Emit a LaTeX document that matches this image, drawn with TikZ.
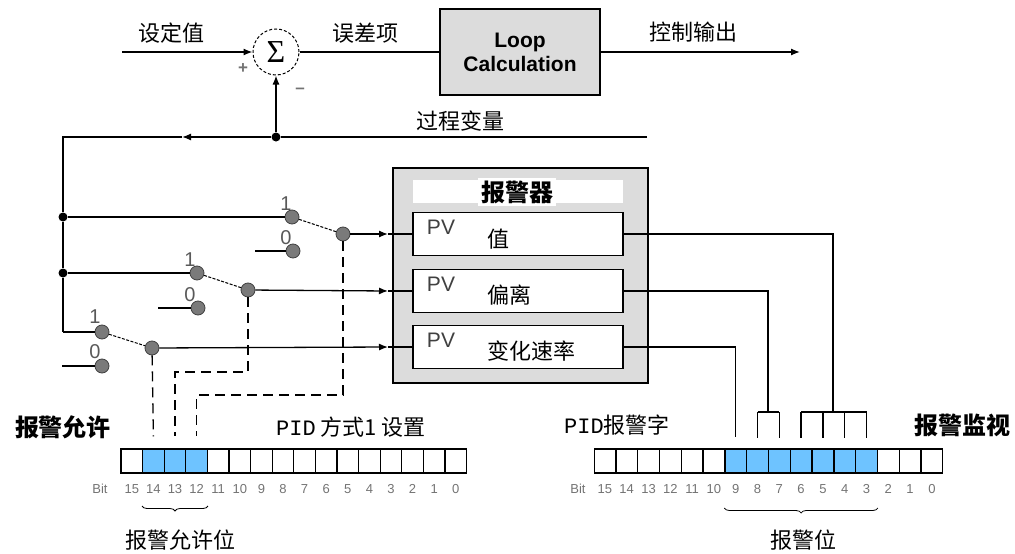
\documentclass[tikz,border=0pt]{standalone}
\usepackage{fontspec}
\setmainfont{Liberation Sans}
\newfontfamily\cjk{Noto Sans CJK SC}
\newfontfamily\pidfont{Liberation Mono}
\newfontfamily\sigfont{Liberation Serif}
\usetikzlibrary{arrows.meta,calc,decorations.pathreplacing}
\definecolor{boxgray}{RGB}{220,220,220}
\definecolor{bitblue}{RGB}{110,195,255}
\definecolor{contactgray}{RGB}{122,122,122}

\begin{document}
\begin{tikzpicture}[x=1pt,y=-1pt,
  wire/.style={line width=1.3pt},
  ctrl/.style={line width=1.3pt,dash pattern=on 10pt off 6pt},
  wiper/.style={line width=1pt,dash pattern=on 3pt off 1.5pt},
  tip/.style={-{Latex[length=9pt,width=7pt]}},
  jdot/.style={circle,fill=black,inner sep=0pt,minimum size=9pt},
  contact/.style={circle,fill=contactgray,draw=black!75,line width=0.8pt,inner sep=0pt,minimum size=14pt},
  cn/.style={font=\cjk\fontsize{22}{24}\selectfont},
  cnbold/.style={font=\cjk\bfseries\fontsize{24}{26}\selectfont},
  swlbl/.style={font=\fontsize{20}{20}\selectfont,text=black!65},
  pvtxt/.style={font=\fontsize{21}{22}\selectfont,text=black!75},
  pvbox/.style={draw,line width=1.3pt,fill=white,minimum width=210pt,minimum height=43pt},
  cell/.style={draw,line width=1.2pt,fill=white,minimum width=21.6pt,minimum height=24pt,inner sep=0pt},
  bitnum/.style={font=\fontsize{13}{14}\selectfont,text=black!55}
]
\useasboundingbox (0,0) rectangle (1015,554);

% Summing junction and loop block
\node[circle,draw,densely dashed,line width=1pt,minimum size=46pt,inner sep=0pt] (sum) at (276,52) {\sigfont\fontsize{32}{32}\selectfont Σ};
\node[draw,line width=1.5pt,fill=boxgray,minimum width=160pt,minimum height=86pt,align=center,
  font=\bfseries\fontsize{21}{24}\selectfont] (loop) at (520,52) {Loop\\Calculation};
\coordinate (sp) at (122,52);
\coordinate (out) at (800,52);
\draw[wire,tip] (sp) -- (sum.west);
\draw[wire] (sum.east) -- (loop.west);
\draw[wire,tip] (loop.east) -- (out);
\node[cn] (splbl) at (171,33) {设定值};
\node[cn] (errlbl) at (365,33) {误差项};
\node[cn] (outlbl) at (693,32) {控制输出};
\node[font=\bfseries\fontsize{17}{17}\selectfont,text=black!55] (plus) at (243,69) {+};
\node[font=\bfseries\fontsize{17}{17}\selectfont,text=black!55] (minus) at (300,91) {--};

% Process variable feedback
\coordinate (pvend) at (647,137);
\node[jdot] (pvdot) at (276,137) {};
\coordinate (pvarr) at (182,137);
\coordinate (pvcorner) at (63,137);
\node[jdot] (j1) at (63,217) {};
\node[jdot] (j2) at (63,273) {};
\coordinate (j3) at (63,332);
\draw[wire] (pvend) -- (pvdot);
\draw[wire,tip] (pvdot) -- (pvarr);
\draw[wire,tip] (pvdot) -- (sum.south);
\draw[wire] (pvarr) -- (pvcorner) -- (j1) -- (j2) -- (j3);
\node[cn] (pvlbl) at (460,121) {过程变量};

% Alarm block
\node[draw,line width=1.5pt,fill=boxgray,minimum width=255pt,minimum height=215pt] (alarm) at (520.5,275.5) {};
\node[fill=white,minimum width=210pt,minimum height=23pt] (band) at (518,191.5) {};
\node[cnbold,fill=white,inner sep=3pt] (alarmlbl) at (517,192) {报警器};
\coordinate (a1) at (388,234);
\coordinate (a2) at (388,291);
\coordinate (a3) at (388,347);
\node[pvbox] (val) at (518,234) {};
\node[pvbox] (dev) at (518,291) {};
\node[pvbox] (rate) at (518,347) {};
\node[pvtxt] (valpv) at (441,227) {PV};
\node[pvtxt] (devpv) at (441,284) {PV};
\node[pvtxt] (ratepv) at (441,340) {PV};
\node[cn,anchor=west] (valtxt) at (484,239) {值};
\node[cn,anchor=west] (devtxt) at (484,295) {偏离};
\node[cn,anchor=west] (ratetxt) at (484,351) {变化速率};

% Switches
\node[swlbl] (s1onelbl) at (286,204) {1};
\node[swlbl] (s1zerolbl) at (286,238) {0};
\node[swlbl] (s2onelbl) at (190,260) {1};
\node[swlbl] (s2zerolbl) at (190,295) {0};
\node[swlbl] (s3onelbl) at (95,317) {1};
\node[swlbl] (s3zerolbl) at (95,352) {0};
\coordinate (s1gnd) at (255,251);
\coordinate (s2gnd) at (158,308);
\coordinate (s3gnd) at (62,366);
\node[contact] (s1one) at (292,217) {};
\node[contact] (s1zero) at (293,251) {};
\node[contact] (s1piv) at (343,234) {};
\node[contact] (s2one) at (197,273) {};
\node[contact] (s2zero) at (198,308) {};
\node[contact] (s2piv) at (248,290) {};
\node[contact] (s3one) at (102,332) {};
\node[contact] (s3zero) at (102,366) {};
\node[contact] (s3piv) at (152,348) {};
\draw[wire] (j1) -- (s1one);
\draw[wire] (j2) -- (s2one);
\draw[wire] (j3) -- (s3one);
\draw[wire] (s1gnd) -- (s1zero);
\draw[wire] (s2gnd) -- (s2zero);
\draw[wire] (s3gnd) -- (s3zero);
\draw[wiper] (s1one) -- (s1piv);
\draw[wiper] (s2one) -- (s2piv);
\draw[wiper] (s3one) -- (s3piv);
\draw[wire,tip] (s1piv) -- (a1);
\draw[wire,tip] (s2piv) -- (a2);
\draw[wire,tip] (s3piv) -- (a3);
\draw[wire] (a1) -- (val.west);
\draw[wire] (a2) -- (dev.west);
\draw[wire] (a3) -- (rate.west);

% Mode 1 register (alarm enable bits)
\foreach \b in {0,...,15}
  \node[cell] (L\b) at ({121+(15.5-\b)*21.6},461) {};
\foreach \b in {12,13,14}
  \node[cell,fill=bitblue] at (L\b) {};
\node[bitnum] (Lbit) at (100,489) {Bit};
\foreach \b in {0,...,15}
  \node[bitnum] at (L\b |- Lbit) {\b};
\draw[decorate,decoration={brace,mirror,amplitude=5pt},line width=0.8pt]
  ($(L14.west)+(0,45)$) -- ($(L12.east)+(0,45)$);
\node[cn] (enbits) at (180,540) {报警允许位};
\node[cnbold] (enlbl) at (63,427) {报警允许};
\node[cn] (modelbl) at (351,427) {{\pidfont PID} 方式1 设置};

% Enable control lines
\coordinate (c2y) at (0,372);
\coordinate (c1y) at (0,395);
\draw[ctrl] (s3piv) -- ($(L14.north)+(0,-12)$);
\draw[ctrl] (s2piv) -- (s2piv |- c2y) -| ($(L13.north)+(0,-12)$);
\draw[ctrl] (s1piv) -- (s1piv |- c1y) -| ($(L12.north)+(0,-12)$);

% Alarm word register (alarm bits)
\foreach \b in {0,...,15}
  \node[cell] (R\b) at ({594+(15.5-\b)*21.8},461) {};
\foreach \b in {3,...,9}
  \node[cell,fill=bitblue] at (R\b) {};
\node[bitnum] (Rbit) at (578,489) {Bit};
\foreach \b in {0,...,15}
  \node[bitnum] at (R\b |- Rbit) {\b};
\draw[decorate,decoration={brace,mirror,amplitude=5pt},line width=0.8pt]
  ($(R9.west)+(0,47)$) -- ($(R3.east)+(0,47)$);
\node[cn] (albits) at (803,540) {报警位};
\node[cn] (wordlbl) at (617,425) {{\pidfont PID}报警字};
\node[cnbold] (monlbl) at (962,425) {报警监视};

% Alarm outputs to alarm bits
\coordinate (vfork) at (833,412);
\coordinate (dfork) at (768,412);
\draw[wire] (val.east) -| (vfork);
\draw[wire] (dev.east) -| (dfork);
\draw[wire] (rate.east) -| ($(R9.north)+(0,-11)$);
\draw[wire] (R6.north |- vfork) -- (R3.north |- vfork);
\draw[wire] (R8.north |- dfork) -- (R7.north |- dfork);
\foreach \b in {3,...,8}
  \draw[wire] (R\b.north |- vfork) -- ++(0,26);
\end{tikzpicture}
\end{document}
